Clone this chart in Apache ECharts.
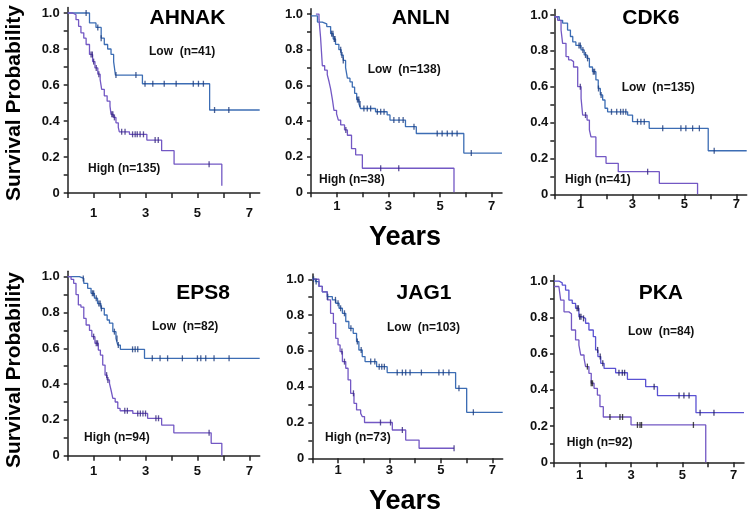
<!DOCTYPE html>
<html><head><meta charset="utf-8">
<script src="https://cdn.jsdelivr.net/npm/echarts@6/dist/echarts.min.js"></script>
<style>html,body{margin:0;padding:0;background:#fff}#c{width:750px;height:514px}</style>
</head><body><div id="c"></div>
<script>
// ---------- DATA (Kaplan-Meier step points [years, survival]) ----------
const panelNames = ['AHNAK', 'ANLN', 'CDK6', 'EPS8', 'JAG1', 'PKA'];
const lowLabels  = ['Low  (n=41)', 'Low  (n=138)', 'Low  (n=135)', 'Low  (n=82)', 'Low  (n=103)', 'Low  (n=84)'];
const highLabels = ['High (n=135)', 'High (n=38)', 'High (n=41)', 'High (n=94)', 'High (n=73)', 'High (n=92)'];
const xTickValues  = [0, 1, 2, 3, 4, 5, 6, 7];
const xLabelValues = [1, 3, 5, 7];
const yTickValues  = [0, 0.1, 0.2, 0.3, 0.4, 0.5, 0.6, 0.7, 0.8, 0.9, 1.0];
const yLabelValues = [0, 0.2, 0.4, 0.6, 0.8, 1.0];

const ahnakLow = [[0,1],[0.84,0.945],[1.09,0.92],[1.29,0.86],[1.41,0.825],[1.54,0.80],[1.67,0.77],[1.77,0.73],[1.84,0.655],[2.88,0.607],[5.47,0.461],[7.4,0.461]];
const ahnakLowCens = [0.71,1.16,1.29,1.86,2.63,2.98,3.28,3.72,4.18,4.84,5.04,5.23,5.66,6.21];
const ahnakHigh = [[0,1],[0.19,0.99],[0.32,0.963],[0.42,0.926],[0.51,0.89],[0.62,0.86],[0.71,0.825],[0.84,0.77],[0.96,0.73],[1.05,0.695],[1.16,0.66],[1.25,0.63],[1.31,0.576],[1.41,0.54],[1.52,0.51],[1.63,0.483],[1.67,0.437],[1.76,0.42],[1.86,0.39],[1.95,0.365],[1.99,0.34],[2.38,0.326],[3.05,0.294],[3.62,0.235],[4.1,0.16],[5.94,0.04]];
const ahnakHighCens = [0.9,0.95,1.0,1.1,1.2,1.7,1.74,1.8,2.08,2.21,2.5,2.6,2.68,2.79,2.92,3.37,3.49,5.45];

const anlnLow = [[0,0.99],[0.25,0.955],[0.44,0.945],[0.61,0.93],[0.76,0.89],[0.86,0.86],[0.95,0.83],[1.08,0.80],[1.17,0.77],[1.25,0.74],[1.34,0.70],[1.41,0.64],[1.51,0.62],[1.6,0.59],[1.69,0.555],[1.77,0.52],[1.86,0.495],[1.92,0.47],[2.5,0.452],[2.95,0.434],[3.06,0.405],[3.66,0.368],[4.08,0.33],[5.92,0.22],[7.4,0.22]];
const anlnLowCens = [0.8,0.85,0.9,0.93,1.15,1.2,1.25,1.8,1.85,1.9,2.05,2.18,2.31,2.57,2.7,2.83,3.21,3.41,3.57,3.99,4.89,5.08,5.28,5.47,5.66,6.21];
const anlnHigh = [[0.19,1.0],[0.31,0.97],[0.37,0.87],[0.44,0.71],[0.53,0.685],[0.63,0.66],[0.70,0.62],[0.76,0.58],[0.83,0.52],[0.89,0.46],[0.99,0.44],[1.06,0.405],[1.15,0.378],[1.30,0.35],[1.41,0.32],[1.57,0.245],[1.73,0.21],[1.99,0.135],[5.54,0]];
const anlnHighCens = [1.35,2.7,3.4];

const cdk6Low = [[0,0.99],[0.19,0.97],[0.32,0.955],[0.51,0.916],[0.62,0.88],[0.71,0.85],[0.83,0.83],[1.03,0.805],[1.15,0.777],[1.26,0.758],[1.35,0.71],[1.47,0.684],[1.6,0.638],[1.69,0.59],[1.77,0.554],[1.86,0.526],[1.95,0.48],[2.05,0.46],[2.82,0.442],[3.01,0.405],[3.65,0.368],[5.92,0.243],[7.4,0.243]];
const cdk6LowCens = [0.95,1.0,1.1,1.2,1.28,1.5,1.55,1.7,1.8,2.2,2.4,2.55,2.65,2.75,3.2,3.33,3.46,4.17,4.87,5.06,5.32,5.58,6.15];
const cdk6High = [[0,0.99],[0.13,0.97],[0.26,0.916],[0.32,0.842],[0.45,0.768],[0.55,0.75],[0.64,0.74],[0.74,0.71],[0.90,0.60],[1.03,0.535],[1.09,0.442],[1.26,0.414],[1.35,0.359],[1.41,0.32],[1.6,0.21],[1.99,0.173],[2.46,0.126],[4.04,0.061],[5.51,0]];
const cdk6HighCens = [1.0,1.2,3.59];

const eps8Low = [[0,1],[0.45,0.99],[0.62,0.963],[0.77,0.935],[0.90,0.907],[1.03,0.88],[1.15,0.85],[1.28,0.823],[1.41,0.786],[1.52,0.758],[1.61,0.74],[1.74,0.693],[1.86,0.655],[1.93,0.618],[2.03,0.594],[2.96,0.544],[7.4,0.544]];
const eps8LowCens = [0.6,0.95,1.0,1.1,1.2,1.25,1.3,1.8,1.9,1.95,2.5,2.6,2.7,3.26,3.56,3.85,4.42,5.0,5.13,5.32,5.64,6.22];
const eps8High = [[0,1],[0.13,0.985],[0.23,0.963],[0.32,0.9],[0.41,0.842],[0.51,0.83],[0.62,0.767],[0.71,0.73],[0.84,0.70],[0.93,0.665],[1.05,0.628],[1.18,0.59],[1.26,0.562],[1.35,0.506],[1.44,0.45],[1.52,0.423],[1.61,0.404],[1.67,0.367],[1.74,0.32],[1.83,0.30],[1.93,0.264],[2.02,0.251],[2.51,0.236],[3.08,0.209],[3.62,0.171],[4.09,0.128],[5.53,0.069],[5.94,0]];
const eps8HighCens = [1.0,1.1,1.15,1.5,1.55,2.2,2.3,2.7,2.8,2.9,3.0,3.4,3.5,5.45];

const jag1Low = [[0,1],[0.13,0.987],[0.26,0.96],[0.39,0.93],[0.58,0.903],[0.78,0.885],[0.91,0.866],[1.04,0.838],[1.17,0.81],[1.30,0.764],[1.42,0.726],[1.59,0.698],[1.72,0.652],[1.81,0.605],[1.94,0.568],[2.05,0.54],[2.50,0.512],[2.91,0.479],[5.57,0.391],[6.0,0.257],[7.4,0.257]];
const jag1LowCens = [0.05,0.15,0.6,0.9,1.0,1.1,1.25,1.5,1.75,1.9,2.27,2.43,2.6,2.7,2.8,3.3,3.5,3.63,3.8,4.24,4.92,5.09,5.31,5.7,6.26];
const jag1High = [[0,1],[0.26,0.96],[0.39,0.93],[0.58,0.885],[0.71,0.81],[0.82,0.754],[0.91,0.67],[1.0,0.633],[1.08,0.596],[1.17,0.54],[1.30,0.503],[1.39,0.438],[1.49,0.363],[1.62,0.307],[1.72,0.27],[1.88,0.251],[1.94,0.233],[2.03,0.20],[3.11,0.158],[3.63,0.102],[4.15,0.056],[5.51,0.056]];
const jag1HighCens = [1.15,1.25,1.6,2.65,3.04,3.5,5.51];

const pkaLow = [[0,1],[0.19,0.99],[0.32,0.978],[0.45,0.95],[0.58,0.895],[0.71,0.877],[0.84,0.85],[0.97,0.803],[1.10,0.794],[1.23,0.767],[1.36,0.73],[1.53,0.693],[1.62,0.62],[1.71,0.583],[1.82,0.546],[1.95,0.518],[2.40,0.494],[2.86,0.458],[3.57,0.417],[4.03,0.368],[5.53,0.274],[7.4,0.274]];
const pkaLowCens = [0.9,0.95,1.0,1.05,1.15,1.7,1.8,1.9,2.53,2.66,2.75,3.9,4.87,5.06,5.26,5.69,6.23];
const pkaHigh = [[0,0.97],[0.19,0.965],[0.26,0.895],[0.39,0.83],[0.58,0.82],[0.68,0.73],[0.84,0.675],[0.97,0.647],[1.04,0.592],[1.17,0.574],[1.23,0.528],[1.36,0.491],[1.45,0.436],[1.56,0.408],[1.69,0.371],[1.79,0.307],[1.92,0.25],[3.0,0.206],[5.91,0]];
const pkaHighCens = [1.3,1.45,1.5,2.18,2.57,2.67,3.25,3.35,3.41,5.43];

// ---------- LAYOUT / STYLE ----------
const FONT = '"Liberation Sans", Arial, Helvetica, sans-serif';
const grids = [
  {left: 67.7, top: 7.6,   width: 192,   height: 185.4, xm: 14, ym: 8},
  {left: 311,  top: 8.7,   width: 191,   height: 183.6, xm: 8,  ym: 8},
  {left: 554.3,top: 9.6,   width: 192.4, height: 184.7, xm: 4,  ym: 6},
  {left: 67.7, top: 271.3, width: 192,   height: 184.4, xm: 9,  ym: 8},
  {left: 312.3,top: 273.9, width: 190.4, height: 184.4, xm: 6,  ym: 8},
  {left: 554,  top: 275.6, width: 190,   height: 186.7, xm: 7,  ym: 6}
];
const titlePos = [[187.5,18],[420.8,18],[650.8,18],[203,293],[424,293],[660.8,293]];
const lowPos  = [[149,52],[367.7,70],[621.7,88],[152,327],[387,328],[628,331.7]];
const highPos = [[88,169],[319,180],[565,180],[84,438],[325,438],[566.7,442.7]];

const panels = [
  {low: ahnakLow, lowC: ahnakLowCens, high: ahnakHigh, highC: ahnakHighCens},
  {low: anlnLow,  lowC: anlnLowCens,  high: anlnHigh,  highC: anlnHighCens},
  {low: cdk6Low,  lowC: cdk6LowCens,  high: cdk6High,  highC: cdk6HighCens},
  {low: eps8Low,  lowC: eps8LowCens,  high: eps8High,  highC: eps8HighCens},
  {low: jag1Low,  lowC: jag1LowCens,  high: jag1High,  highC: jag1HighCens},
  {low: pkaLow,   lowC: pkaLowCens,   high: pkaHigh,   highC: pkaHighCens}
];
const LOW_COLOR = '#3c6db4', LOW_TICK = '#1d3b7c';
const HIGH_COLOR = '#7358c4', HIGH_TICK = '#34257e';
const PKA_LOW_COLOR = '#5a52d2', PKA_LOW_TICK = '#1e1a55';
const PKA_HIGH_TICK = '#1a1a1a';

function stepAt(curve, t) {
  let y = curve[0][1];
  for (const p of curve) { if (p[0] <= t) y = p[1]; }
  return y;
}

const axisLineStyle = {color: '#222', width: 1.5};
const option = {
  animation: false,
  backgroundColor: '#fff',
  grid: [], xAxis: [], yAxis: [], series: [], graphic: [],
  visualMap: []
};

panels.forEach((p, i) => {
  const g = grids[i];
  option.grid.push({left: g.left, top: g.top, width: g.width, height: g.height, containLabel: false, outerBoundsMode: 'none'});
  option.xAxis.push({
    gridIndex: i, type: 'value', min: 0, max: 7.4,
    axisLine: {show: true, onZero: false, lineStyle: axisLineStyle},
    axisTick: {show: true, customValues: xTickValues, length: 5, lineStyle: axisLineStyle},
    axisLabel: {customValues: xLabelValues, margin: g.xm, fontSize: 13, fontWeight: 'bold', color: '#111', fontFamily: FONT},
    splitLine: {show: false}
  });
  option.yAxis.push({
    gridIndex: i, type: 'value', min: 0, max: 1.03,
    axisLine: {show: true, onZero: false, lineStyle: axisLineStyle},
    axisTick: {show: true, customValues: yTickValues, length: 4, lineStyle: axisLineStyle},
    axisLabel: {customValues: yLabelValues, margin: g.ym, fontSize: 13, fontWeight: 'bold', color: '#111', fontFamily: FONT,
      formatter: v => (Math.abs(v) < 1e-9 ? '0' : v.toFixed(1))},
    splitLine: {show: false}
  });
  const isPKA = i === 5;
  const lowColor = isPKA ? PKA_LOW_COLOR : LOW_COLOR;
  const lowTick = isPKA ? PKA_LOW_TICK : LOW_TICK;
  const highTick = isPKA ? PKA_HIGH_TICK : HIGH_TICK;
  option.series.push({
    type: 'line', xAxisIndex: i, yAxisIndex: i, data: p.low, step: 'end',
    showSymbol: false, symbol: 'none', lineStyle: {width: 1.3, color: lowColor}, z: 3
  });
  const highIdx = option.series.length;
  option.series.push({
    type: 'line', xAxisIndex: i, yAxisIndex: i, data: p.high, step: 'end',
    showSymbol: false, symbol: 'none', lineStyle: {width: 1.3, color: HIGH_COLOR}, z: 3
  });
  if (isPKA) {
    option.visualMap.push({
      show: false, type: 'piecewise', seriesIndex: highIdx, dimension: 0,
      pieces: [
        {lt: 0.9, color: '#2b93ea'},
        {gte: 0.9, lt: 2.99, color: '#3a3a3a'},
        {gte: 2.99, lt: 5.9, color: '#2f8ef5'},
        {gte: 5.9, color: '#9a9a9a'}
      ]
    });
  }
  option.series.push({
    type: 'scatter', xAxisIndex: i, yAxisIndex: i, silent: true,
    data: p.lowC.map(t => [t, stepAt(p.low, t)]),
    symbol: 'rect', symbolSize: [1.3, 6], itemStyle: {color: lowTick}, z: 4
  });
  option.series.push({
    type: 'scatter', xAxisIndex: i, yAxisIndex: i, silent: true,
    data: p.highC.map(t => [t, stepAt(p.high, t)]),
    symbol: 'rect', symbolSize: [1.3, 6], itemStyle: {color: highTick}, z: 4
  });

  option.graphic.push({type: 'text', x: titlePos[i][0], y: titlePos[i][1], z: 10,
    style: {text: panelNames[i], fontSize: 21, fontWeight: 'bold', fontFamily: FONT, fill: '#000', align: 'center', verticalAlign: 'middle'}});
  option.graphic.push({type: 'text', x: lowPos[i][0], y: lowPos[i][1], z: 10,
    style: {text: lowLabels[i], fontSize: 12, fontWeight: 'bold', fontFamily: FONT, fill: '#111', align: 'left', verticalAlign: 'middle'}});
  option.graphic.push({type: 'text', x: highPos[i][0], y: highPos[i][1], z: 10,
    style: {text: highLabels[i], fontSize: 12, fontWeight: 'bold', fontFamily: FONT, fill: '#111', align: 'left', verticalAlign: 'middle'}});
});

// Axis titles
[[14, 103], [14, 370]].forEach(pos => {
  option.graphic.push({type: 'text', x: pos[0], y: pos[1], rotation: Math.PI / 2, z: 10,
    style: {text: 'Survival Probability', fontSize: 21, fontWeight: 'bold', fontFamily: FONT, fill: '#000', align: 'center', verticalAlign: 'middle'}});
});
[[405, 238], [405, 502]].forEach(pos => {
  option.graphic.push({type: 'text', x: pos[0], y: pos[1], z: 10,
    style: {text: 'Years', fontSize: 27, fontWeight: 'bold', fontFamily: FONT, fill: '#000', align: 'center', verticalAlign: 'middle'}});
});

const chart = echarts.init(document.getElementById('c'), null, {renderer: 'canvas'});
chart.setOption(option);
</script></body></html>
